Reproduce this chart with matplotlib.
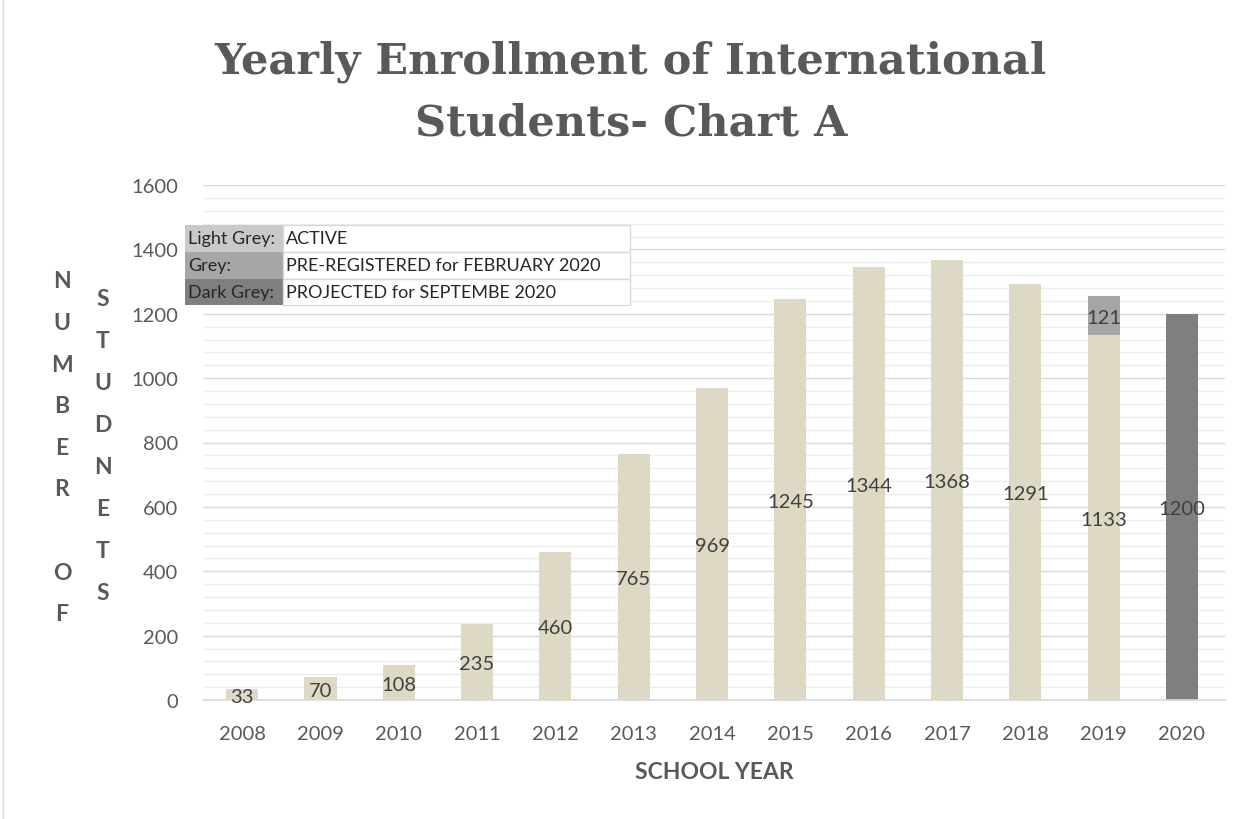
import matplotlib
matplotlib.use("Agg")
import matplotlib.pyplot as plt
from matplotlib.patches import Rectangle
from matplotlib.lines import Line2D
from matplotlib.ticker import MultipleLocator

# ── Data ──────────────────────────────────────────────────────────────────────
years = ["2008", "2009", "2010", "2011", "2012", "2013", "2014",
         "2015", "2016", "2017", "2018", "2019", "2020"]
active = [33, 70, 108, 235, 460, 765, 969, 1245, 1344, 1368, 1291, 1133, 0]
preregistered = [0, 0, 0, 0, 0, 0, 0, 0, 0, 0, 0, 121, 0]
projected = [0, 0, 0, 0, 0, 0, 0, 0, 0, 0, 0, 0, 1200]

legend_keys = ["Light Grey:", "Grey:", "Dark Grey:"]
legend_text = ["ACTIVE", "PRE-REGISTERED for FEBRUARY 2020", "PROJECTED for SEPTEMBE 2020"]

# ── Style ─────────────────────────────────────────────────────────────────────
C_ACTIVE = "#DDD9C4"
C_PRE = "#A6A6A6"
C_PROJ = "#7F7F7F"
C_LEGEND_LIGHT = "#C9C9C9"
TXT = "#595959"
LBL = "#404040"
SANS = ["Lato", "DejaVu Sans"]

W, H = 1253, 820
fig = plt.figure(figsize=(W / 100, H / 100), dpi=100, facecolor="white")


def px(x, y):
    # pixel coords (top-left origin) -> figure fraction
    return x / W, 1 - y / H


ax = fig.add_axes([203 / W, 1 - 701 / H, (1225 - 203) / W, (701 - 186) / H])
x = list(range(len(years)))
bw = 0.41

ax.bar(x, active, width=bw, color=C_ACTIVE, zorder=2)
ax.bar(x, preregistered, width=bw, bottom=active, color=C_PRE, zorder=2)
ax.bar(x, projected, width=bw, color=C_PROJ, zorder=2)

# labels in the middle of each segment
for i in x:
    if active[i]:
        ax.text(i, active[i] / 2, str(active[i]), ha="center", va="center_baseline",
                fontsize=14.5, color=LBL, family=SANS, zorder=3)
    if preregistered[i]:
        ax.text(i, active[i] + preregistered[i] / 2, str(preregistered[i]),
                ha="center", va="center_baseline", fontsize=14.5, color=LBL,
                family=SANS, zorder=3)
    if projected[i]:
        ax.text(i, projected[i] / 2, str(projected[i]), ha="center",
                va="center_baseline", fontsize=14.5, color=LBL, family=SANS, zorder=3)

ax.set_xlim(-0.5, 12.55)
ax.set_ylim(0, 1600)
ax.yaxis.set_major_locator(MultipleLocator(200))
ax.yaxis.set_minor_locator(MultipleLocator(40))
ax.grid(axis="y", which="major", color="#D9D9D9", linewidth=1.0, zorder=0)
ax.grid(axis="y", which="minor", color="#EDEDED", linewidth=1.0, zorder=0)
ax.set_axisbelow(True)
for side in ["top", "right", "left"]:
    ax.spines[side].set_visible(False)
ax.spines["bottom"].set_color("#D9D9D9")
ax.spines["bottom"].set_linewidth(1.2)

ax.set_xticks(x)
ax.set_xticklabels(years)
ax.tick_params(axis="both", which="both", length=0, labelsize=14.5, labelcolor=TXT)
ax.tick_params(axis="x", pad=18)
ax.tick_params(axis="y", pad=18)
for lab in ax.get_xticklabels() + ax.get_yticklabels():
    lab.set_family(SANS)

# ── Title ─────────────────────────────────────────────────────────────────────
fig.text(*px(631, 62), "Yearly Enrollment of International", ha="center", va="center",
         fontsize=31, fontweight="bold", color=TXT, family="DejaVu Serif")
fig.text(*px(631, 124), "Students- Chart A", ha="center", va="center",
         fontsize=31, fontweight="bold", color=TXT, family="DejaVu Serif")

# ── Axis titles ───────────────────────────────────────────────────────────────
fig.text(*px(714, 773), "SCHOOL YEAR", ha="center", va="center",
         fontsize=16.5, fontweight="bold", color=TXT, family=SANS)

col1 = ["N", "U", "M", "B", "E", "R", "", "O", "F"]
col2 = ["S", "T", "U", "D", "N", "E", "T", "S"]
for k, ch in enumerate(col1):
    fig.text(*px(62, 282 + k * 41.6), ch, ha="center", va="center",
             fontsize=16.5, fontweight="bold", color=TXT, family=SANS)
for k, ch in enumerate(col2):
    fig.text(*px(103, 300 + k * 42), ch, ha="center", va="center",
             fontsize=16.5, fontweight="bold", color=TXT, family=SANS)

# ── Legend table ──────────────────────────────────────────────────────────────
rows_y = [226, 253, 280, 306]
key_colors = [C_LEGEND_LIGHT, C_PRE, C_PROJ]
x0, x1, x2 = 185, 283, 630
for r in range(3):
    ya, yb = rows_y[r], rows_y[r + 1]
    fig.patches.append(Rectangle(px(x0, yb), (x1 - x0) / W, (yb - ya) / H,
                                 transform=fig.transFigure, fc=key_colors[r],
                                 ec="none", zorder=5))
    fig.patches.append(Rectangle(px(x1, yb), (x2 - x1) / W, (yb - ya) / H,
                                 transform=fig.transFigure, fc="white",
                                 ec="#D9D9D9", lw=1.0, zorder=5))
    fig.text(*px(x0 + 3, (ya + yb) / 2), legend_keys[r], ha="left", va="center",
             fontsize=13, color="#262626", family=SANS, zorder=6)
    fig.text(*px(x1 + 3, (ya + yb) / 2), legend_text[r], ha="left", va="center",
             fontsize=13, color="#262626", family=SANS, zorder=6)

# thin frame at left edge
fig.lines.append(Line2D([3 / W, 3 / W], [0, 1], transform=fig.transFigure,
                        color="#D9D9D9", linewidth=1))

fig.savefig("out.png", dpi=100, facecolor="white")
